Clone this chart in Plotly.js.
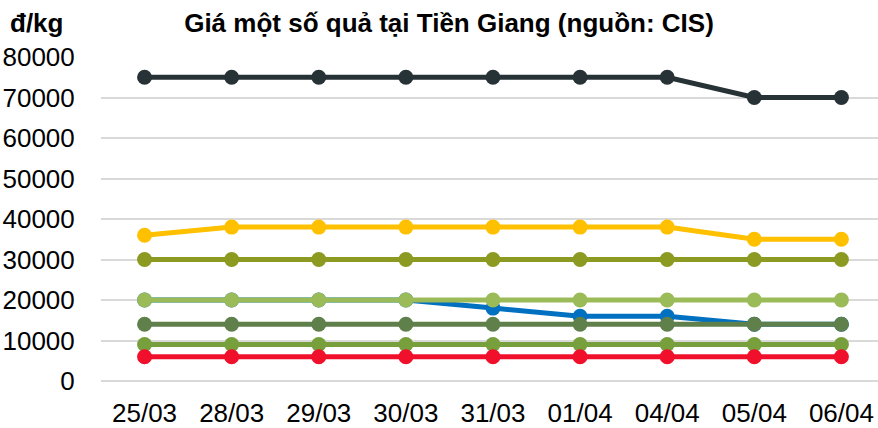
<!DOCTYPE html>
<html><head><meta charset="utf-8">
<script src="https://cdn.plot.ly/plotly-3.0.1.min.js"></script>
<style>body{margin:0;background:#fff}#c{width:878px;height:428px}</style>
</head><body><div id="c"></div>
<script>
const dates = ["25/03","28/03","29/03","30/03","31/03","01/04","04/04","05/04","06/04"];
const sDark = [75000,75000,75000,75000,75000,75000,75000,70000,70000];
const sYellow = [36000,38000,38000,38000,38000,38000,38000,35000,35000];
const sOlive = [30000,30000,30000,30000,30000,30000,30000,30000,30000];
const sBlue = [20000,20000,20000,20000,18000,16000,16000,14000,14000];
const sLightGreen = [20000,20000,20000,20000,20000,20000,20000,20000,20000];
const sDarkGreen = [14000,14000,14000,14000,14000,14000,14000,14000,14000];
const sGreen = [9000,9000,9000,9000,9000,9000,9000,9000,9000];
const sRed = [6000,6000,6000,6000,6000,6000,6000,6000,6000];
const yTicks = [0,10000,20000,30000,40000,50000,60000,70000,80000];

const series = [
  [sDark,'#273237'],[sYellow,'#FFC000'],[sOlive,'#8C9A21'],[sBlue,'#0070C0'],
  [sLightGreen,'#9BBB59'],[sDarkGreen,'#5F7F4B'],[sGreen,'#77A03D'],[sRed,'#F0102B']
];
const traces = series.map(([v,c]) => ({
  x: dates.map((d,i)=>i), y: v, type:'scatter', mode:'lines+markers',
  line:{color:c,width:5}, marker:{color:c,size:15}, hoverinfo:'skip', cliponaxis:false
}));
const layout = {
  width:878, height:428, showlegend:false,
  margin:{l:101,r:0,t:57,b:47},
  paper_bgcolor:'#fff', plot_bgcolor:'#fff',
  font:{family:'Liberation Sans, Arial, sans-serif', color:'#000', size:26},
  title:{text:'<b>Giá một số quả tại Tiền Giang (nguồn: CIS)</b>', x:449/878, xanchor:'center',
    xref:'container', yref:'container', y:1-23/428, yanchor:'middle',
    font:{size:26, family:'Liberation Sans, Arial, sans-serif', color:'#000'}},
  xaxis:{range:[-0.5,8.42], tickmode:'array', tickvals:dates.map((d,i)=>i), ticktext:dates,
    showgrid:false, zeroline:false, showline:false, ticks:'outside', ticklen:9,
    tickcolor:'rgba(0,0,0,0)', tickfont:{size:26}},
  yaxis:{range:[0,80000], tickmode:'array', tickvals:yTicks, ticktext:yTicks.map(String),
    showgrid:true, gridcolor:'#D9D9D9', gridwidth:2, zeroline:true, zerolinecolor:'#D9D9D9', zerolinewidth:2,
    showline:false, ticks:'outside', ticklen:20, tickcolor:'rgba(0,0,0,0)', tickfont:{size:26}},
  annotations:[{text:'<b>đ/kg</b>', xref:'paper', yref:'paper', x:(36-101)/777, y:(381-23)/324,
    xanchor:'center', yanchor:'middle', showarrow:false, font:{size:26,color:'#000'}}]
};
Plotly.newPlot('c', traces, layout, {staticPlot:true});
</script></body></html>
